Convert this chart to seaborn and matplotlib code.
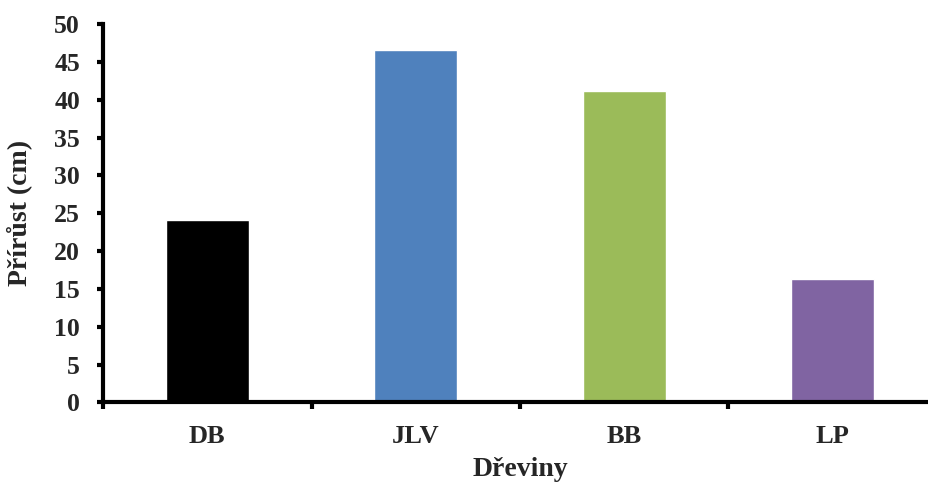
import matplotlib
matplotlib.use("Agg")
import matplotlib.pyplot as plt
import seaborn as sns

# Growth increment per tree species
categories = ["DB", "JLV", "BB", "LP"]
values = [24.1, 46.6, 41.1, 16.3]
colors = ["#000000", "#4F81BD", "#9BBB59", "#8064A2"]
y_ticks = [0, 5, 10, 15, 20, 25, 30, 35, 40, 45, 50]

sns.set_style("white")
plt.rcParams["font.family"] = ["Liberation Serif", "DejaVu Serif"]
plt.rcParams["font.weight"] = "bold"

fig = plt.figure(figsize=(9.29, 4.84), dpi=100)
ax = fig.add_axes([0.1109, 0.1684, 0.8977, 0.782])

sns.barplot(x=categories, y=values, hue=categories, palette=colors,
            width=0.4, legend=False, ax=ax, saturation=1)

ax.set_xlim(-0.5, 3.5)
ax.set_ylim(0, 50)
ax.set_yticks(y_ticks)
ax.set_yticklabels([str(t) for t in y_ticks], fontsize=18.5, fontweight="bold")
ax.set_xticks(range(len(categories)))
ax.set_xticklabels(categories, fontsize=19, fontweight="bold")
ax.set_xticks([-0.5, 0.5, 1.5, 2.5, 3.5], minor=True)

ax.tick_params(axis="x", which="major", length=0, pad=16)
ax.tick_params(axis="x", which="minor", length=5, width=3, direction="out",
               bottom=True, color="black")
ax.tick_params(axis="y", which="major", length=4.5, width=3, direction="out",
               left=True, pad=12, color="black")

for side in ("top", "right"):
    ax.spines[side].set_visible(False)
for side in ("left", "bottom"):
    ax.spines[side].set_linewidth(3)
    ax.spines[side].set_color("black")

ax.set_ylabel("Přírůst (cm)", fontsize=20, fontweight="bold", labelpad=16)
ax.set_xlabel("Dřeviny", fontsize=20, fontweight="bold", labelpad=7)

fig.savefig("out.png", dpi=100)
